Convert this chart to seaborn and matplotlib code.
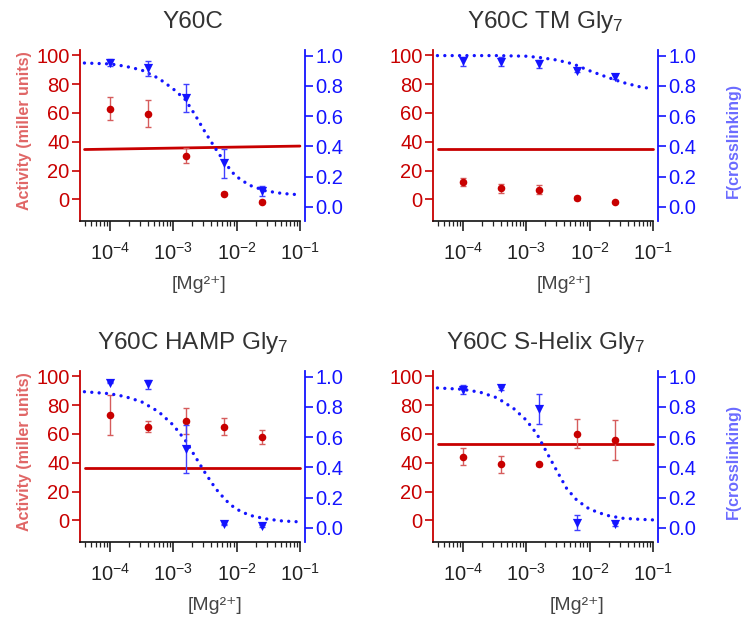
import numpy as np
import seaborn as sns
import matplotlib.pyplot as plt
from matplotlib.ticker import LogLocator, FormatStrFormatter, NullFormatter

# Mg2+ concentrations (4-fold dilutions)
mg = [1e-4, 4e-4, 1.6e-3, 6.4e-3, 2.56e-2]

titles = ["Y60C", "Y60C TM Gly$_7$", "Y60C HAMP Gly$_7$", "Y60C S-Helix Gly$_7$"]

# activity (miller units), red circles
activity = [[63, 59.6, 30.3, 3.9, -1.6],
            [12, 7.6, 6.7, 0.9, -1.8],
            [73.3, 65.1, 69, 65, 58],
            [44.2, 39, 39, 60.2, 56]]
activity_err = [[8.2, 9.2, 5.2, 1, 1],
                [3, 3, 3, 1.5, 0.8],
                [14, 4, 9, 6, 5],
                [6, 6, 1, 10, 14]]

# horizontal activity line (start, end)
line_x = [4e-5, 1e-1]
baseline = [[34.6, 37.0], [35.1, 35.1], [36.7, 36.7], [52.8, 52.8]]

# fraction crosslinking, blue triangles
crosslink = [[0.953, 0.916, 0.72, 0.29, 0.106],
             [0.964, 0.96, 0.945, 0.90, 0.86],
             [0.96, 0.95, 0.52, 0.024, 0.013],
             [0.912, 0.923, 0.784, 0.035, 0.024]]
crosslink_err = [[0.023, 0.05, 0.091, 0.096, 0.033],
                 [0.03, 0.03, 0.025, 0.01, 0.012],
                 [0.005, 0.03, 0.16, 0.005, 0.005],
                 [0.03, 0.01, 0.10, 0.05, 0.008]]

# dotted fit curves (log10 of [Mg2+], fraction)
fit_logx = [[-4.40, -4.0, -3.76, -3.50, -3.23, -3.0, -2.81, -2.65, -2.49, -2.33, -2.17, -2.02, -1.80, -1.54, -1.28, -1.0],
            [-4.40, -4.0, -3.46, -3.0, -2.78, -2.52, -2.26, -2.0, -1.74, -1.48, -1.21, -1.0],
            [-4.40, -4.0, -3.76, -3.50, -3.23, -3.0, -2.81, -2.65, -2.49, -2.33, -2.17, -2.02, -1.80, -1.54, -1.28, -1.0],
            [-4.40, -4.0, -3.72, -3.46, -3.20, -3.0, -2.83, -2.68, -2.52, -2.36, -2.20, -2.0, -1.74, -1.48, -1.21, -1.0]]
fit_y = [[0.951, 0.945, 0.93, 0.905, 0.85, 0.78, 0.71, 0.605, 0.49, 0.384, 0.284, 0.206, 0.144, 0.106, 0.089, 0.08],
         [1.0, 1.0, 1.0, 0.996, 0.987, 0.971, 0.945, 0.90, 0.86, 0.823, 0.794, 0.78],
         [0.90, 0.887, 0.868, 0.834, 0.768, 0.68, 0.58, 0.47, 0.36, 0.26, 0.183, 0.128, 0.084, 0.06, 0.046, 0.04],
         [0.925, 0.916, 0.896, 0.86, 0.79, 0.713, 0.62, 0.503, 0.38, 0.26, 0.183, 0.124, 0.084, 0.064, 0.057, 0.053]]

xlabel_pos = [0.53, 0.58, 0.60, 0.64]

RED = "#c80000"
RED_ERR = "#d65c5c"
BLUE = "#1414ff"
BLUE_ERR = "#4040ff"

sns.set_theme(style="ticks")
plt.rcParams['font.family'] = ['Liberation Sans', 'DejaVu Sans']
plt.rcParams['mathtext.fontset'] = 'custom'
plt.rcParams['mathtext.rm'] = 'Liberation Sans'
plt.rcParams['mathtext.it'] = 'Liberation Sans:italic'
plt.rcParams['mathtext.bf'] = 'Liberation Sans:bold'

W, H = 747, 630
fig = plt.figure(figsize=(W / 100, H / 100), dpi=100)
lefts = [80, 433]
tops = [50, 371]
aw, ah = 225, 171

xlim = (10 ** -4.47, 10 ** -0.92)

for i in range(4):
    row, col = i // 2, i % 2
    ax = fig.add_axes([lefts[col] / W, 1 - (tops[row] + ah) / H, aw / W, ah / H])
    ax.set_xscale('log')

    sns.lineplot(x=line_x, y=baseline[i], ax=ax, color=RED, lw=2)
    ax.errorbar(mg, activity[i], yerr=activity_err[i], fmt='none', ecolor=RED_ERR,
                elinewidth=1, capsize=2.5, capthick=1)
    sns.scatterplot(x=mg, y=activity[i], ax=ax, color=RED, s=30, linewidth=0, zorder=3)

    ax2 = ax.twinx()
    sns.lineplot(x=10 ** np.array(fit_logx[i]), y=fit_y[i], ax=ax2, color=BLUE, lw=2.4,
                 linestyle=(0, (0.01, 2.2)), dash_capstyle='round')
    ax2.errorbar(mg, crosslink[i], yerr=crosslink_err[i], fmt='none', ecolor=BLUE_ERR,
                 elinewidth=1, capsize=2.5, capthick=1)
    sns.scatterplot(x=mg, y=crosslink[i], ax=ax2, color=BLUE, marker='v', s=44,
                    linewidth=0, zorder=3)

    ax.set_xlim(*xlim)
    ax.set_ylim(-15.1, 103.8)
    ax2.set_ylim(-0.093, 1.037)

    ax.set_yticks(range(0, 101, 20))
    ax2.set_yticks(np.arange(0, 1.01, 0.2))
    ax2.yaxis.set_major_formatter(FormatStrFormatter('%.1f'))
    ax.xaxis.set_major_locator(LogLocator(base=10, numticks=10))
    ax.xaxis.set_minor_locator(LogLocator(base=10, subs=np.arange(2, 10), numticks=20))
    ax.xaxis.set_minor_formatter(NullFormatter())

    ax.spines['top'].set_visible(False)
    ax.spines['right'].set_visible(False)
    ax.spines['left'].set_color(RED)
    ax.spines['left'].set_linewidth(1.3)
    ax.spines['bottom'].set_color('#111111')
    ax.spines['bottom'].set_linewidth(1.2)
    ax.spines['bottom'].set_bounds(xlim[0], 0.1)
    for s in ['top', 'left', 'bottom']:
        ax2.spines[s].set_visible(False)
    ax2.spines['right'].set_color(BLUE)
    ax2.spines['right'].set_linewidth(1.3)

    ax.tick_params(axis='y', colors=RED, direction='out', length=5.5, width=1.2,
                   labelsize=14.5, pad=2)
    ax2.tick_params(axis='y', colors=BLUE, direction='out', length=5.5, width=1.2,
                    labelsize=14.5, pad=2)
    ax.tick_params(axis='x', which='major', colors='#222222', direction='out',
                   length=7, width=1.2, labelsize=14.5, pad=8)
    ax.tick_params(axis='x', which='minor', colors='#222222', direction='out',
                   length=3.5, width=0.9)

    ax.set_xlabel("[Mg²⁺]", fontsize=14, color='#444444')
    ax.xaxis.set_label_coords(xlabel_pos[i], -0.32)
    ax.set_title(titles[i], fontsize=17.5, color='#333333', pad=16)

    if col == 0:
        ax.set_ylabel("Activity (miller units)", color="#e06666", fontsize=11.5,
                      fontweight='bold')
        ax.yaxis.set_label_coords(-0.213, 0.53)
        ax2.set_ylabel("")
    else:
        ax.set_ylabel("")
        ax2.set_ylabel("F(crosslinking)", color="#6b6bff", fontsize=11.5,
                       fontweight='bold')
        ax2.yaxis.set_label_coords(1.30, 0.47)

fig.savefig("out.png", dpi=100, facecolor='white')
